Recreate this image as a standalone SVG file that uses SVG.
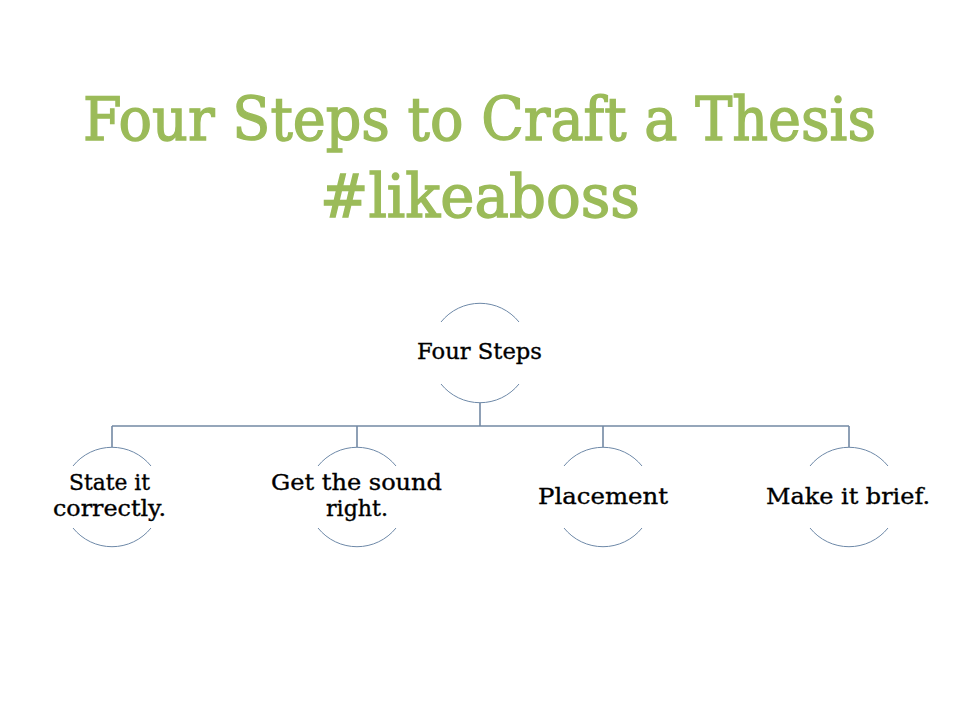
<svg xmlns="http://www.w3.org/2000/svg" width="960" height="720" viewBox="0 0 960 720">
<style>
.title{font-family:"DejaVu Serif","Liberation Serif",serif;font-size:59px;fill:#9BBB59;stroke:#9BBB59;stroke-width:1.4;text-anchor:middle}
.lbl{font-family:"DejaVu Serif","Liberation Serif",serif;font-size:22px;fill:#000;stroke:#000;stroke-width:0.35;text-anchor:middle}
.arc{fill:none;stroke:#6E89A8;stroke-width:1}
.conn{fill:none;stroke:#7389A4;stroke-width:1.6}
</style>
<rect width="960" height="720" fill="#fff"/>
<g id="title">
<text class="title" x="479.5" y="140" textLength="793" lengthAdjust="spacingAndGlyphs">Four Steps to Craft a Thesis</text>
<text class="title" x="480" y="217" textLength="320" lengthAdjust="spacingAndGlyphs">#likeaboss</text>
</g>
<g id="connectors">
<path class="conn" d="M480,403 V426 M112,426 H849 M112,426 V447 M357,426 V447 M603,426 V447 M849,426 V447"/>
</g>
<g id="node-root">
<path class="arc" d="M441,322 A50,50 0 0 1 519,322 M519,384 A50,50 0 0 1 441,384"/>
<text class="lbl" x="479.5" y="359" textLength="125" lengthAdjust="spacingAndGlyphs">Four Steps</text>
</g>
<g id="node-state">
<path class="arc" d="M73,466 A50,50 0 0 1 151,466 M151,528 A50,50 0 0 1 73,528"/>
<text class="lbl" x="109.5" y="490" textLength="81" lengthAdjust="spacingAndGlyphs">State it</text>
<text class="lbl" x="109.5" y="516" textLength="113" lengthAdjust="spacingAndGlyphs">correctly.</text>
</g>
<g id="node-sound">
<path class="arc" d="M318,466 A50,50 0 0 1 396,466 M396,528 A50,50 0 0 1 318,528"/>
<text class="lbl" x="356.5" y="490" textLength="171" lengthAdjust="spacingAndGlyphs">Get the sound</text>
<text class="lbl" x="357" y="516" textLength="62" lengthAdjust="spacingAndGlyphs">right.</text>
</g>
<g id="node-placement">
<path class="arc" d="M564,466 A50,50 0 0 1 642,466 M642,528 A50,50 0 0 1 564,528"/>
<text class="lbl" x="603" y="504" textLength="130" lengthAdjust="spacingAndGlyphs">Placement</text>
</g>
<g id="node-brief">
<path class="arc" d="M810,466 A50,50 0 0 1 888,466 M888,528 A50,50 0 0 1 810,528"/>
<text class="lbl" x="848" y="504" textLength="164" lengthAdjust="spacingAndGlyphs">Make it brief.</text>
</g>
</svg>
